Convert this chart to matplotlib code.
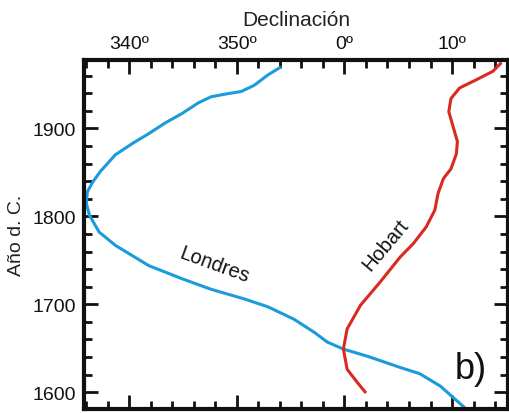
import matplotlib.pyplot as plt
from matplotlib.ticker import MultipleLocator, FuncFormatter

plt.rcParams['font.family'] = ['Liberation Sans', 'DejaVu Sans']

# declination in degrees (negative = west of north), year AD
london_dec = [-5.9, -7.1, -8.4, -9.6, -11.1, -12.4, -13.6, -15.1, -16.7, -18.2, -19.7,
              -21.3, -22.7, -23.4, -23.9, -24.0, -23.7, -22.8, -21.3, -18.2, -15.1, -12.4,
              -9.3, -7.1, -4.7, -2.8, -1.6, -0.1, 2.1, 5.2, 7.0, 8.9, 10.1, 11.3]
london_year = [1970, 1961, 1949, 1942, 1939, 1936, 1929, 1917, 1906, 1894, 1883,
               1870, 1851, 1839, 1828, 1815, 1801, 1782, 1767, 1744, 1729, 1717,
               1706, 1697, 1683, 1668, 1657, 1649, 1641, 1628, 1621, 1607, 1594, 1581]

hobart_dec = [14.6, 13.8, 12.2, 10.7, 9.9, 9.7, 10.1, 10.5, 10.4, 9.9, 9.2, 8.7, 8.4,
              7.6, 6.4, 5.2, 3.3, 1.5, 0.25, -0.1, 0.25, 1.2, 2.0]
hobart_year = [1975, 1965, 1955, 1946, 1934, 1919, 1902, 1885, 1871, 1854, 1843, 1826, 1807,
               1788, 1769, 1754, 1725, 1699, 1672, 1649, 1626, 1611, 1599]

fig = plt.figure(figsize=(5.1, 4.14), dpi=100)
ax = fig.add_axes([0.165, 0.01, 0.831, 0.843])

ax.plot(london_dec, london_year, color='#1a9bdb', lw=2.2, solid_capstyle='butt')
ax.plot(hobart_dec, hobart_year, color='#d92a20', lw=2.2, solid_capstyle='butt')

ax.set_xlim(-24.2, 15.2)
ax.set_ylim(1581, 1978)

ax.xaxis.set_major_locator(MultipleLocator(10))
ax.xaxis.set_minor_locator(MultipleLocator(2))
ax.yaxis.set_major_locator(MultipleLocator(100))
ax.yaxis.set_minor_locator(MultipleLocator(20))
ax.xaxis.set_major_formatter(FuncFormatter(lambda v, p: f"{int(round(v)) % 360}º"))

ax.tick_params(which='both', direction='in', top=True, bottom=True, left=True, right=True,
               labeltop=True, labelbottom=False, width=2, colors='#111111')
ax.tick_params(which='major', length=10, labelsize=14, pad=6)
ax.tick_params(which='minor', length=6)
for s in ax.spines.values():
    s.set_linewidth(3)
    s.set_color('#111111')

ax.xaxis.set_label_position('top')
ax.set_xlabel('Declinación', fontsize=15, labelpad=7, color='#222222')
ax.set_ylabel('Año d. C.', fontsize=14, labelpad=5, color='#222222')

ax.text(-12.1, 1746, 'Londres', fontsize=14.5, rotation=-20, ha='center', va='center',
        color='#111111')
ax.text(3.8, 1768, 'Hobart', fontsize=14.5, rotation=50, ha='center', va='center',
        color='#111111')
ax.text(11.7, 1627, 'b)', fontsize=26, ha='center', va='center', color='#111111')

plt.savefig('out.png', dpi=100)
